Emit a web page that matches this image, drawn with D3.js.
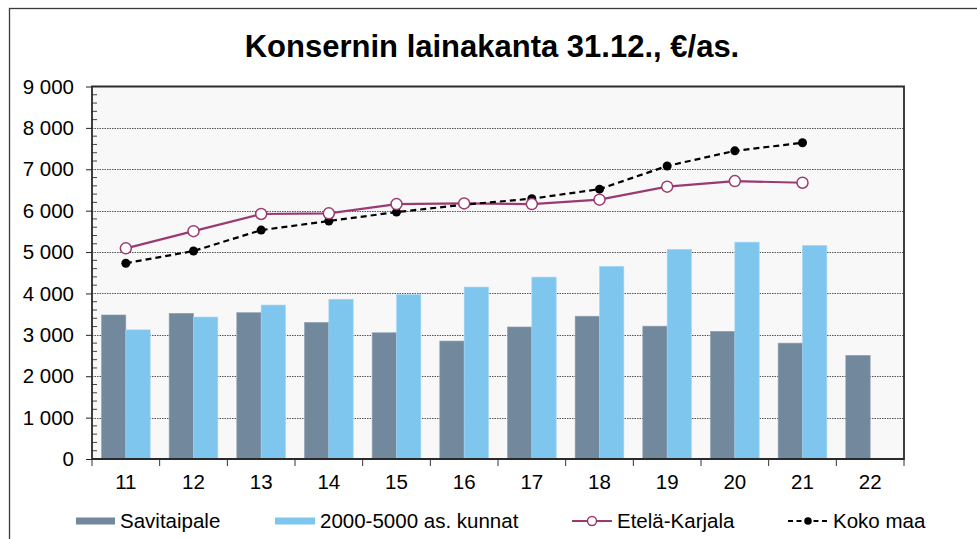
<!DOCTYPE html>
<html lang="fi">
<head>
<meta charset="UTF-8">
<script src="https://d3js.org/d3.v7.min.js"></script>
<title>Konsernin lainakanta</title>
<style>
  body { margin: 0; background: #fff; }
  text { font-family: "Liberation Sans", Arial, sans-serif; fill: #000; }
</style>
</head>
<body>
<script>
// Chart data
const years = ['11', '12', '13', '14', '15', '16', '17', '18', '19', '20', '21', '22'];
const savitaipale = [3480, 3520, 3535, 3300, 3050, 2850, 3190, 3450, 3210, 3085, 2800, 2505];
const kunnat = [3120, 3430, 3720, 3860, 3970, 4155, 4395, 4655, 5065, 5240, 5160, null];
const etelaKarjala = [5090, 5505, 5920, 5935, 6160, 6175, 6160, 6265, 6580, 6715, 6675, null];
const kokoMaa = [4730, 5025, 5530, 5750, 5965, 6145, 6290, 6520, 7080, 7445, 7640, null];
const yTicks = [0, 1000, 2000, 3000, 4000, 5000, 6000, 7000, 8000, 9000];

const W = 977, H = 539;
const plot = {left: 92, top: 86.5, right: 904, bottom: 459};
const FS = 20.5;

const svg = d3.select('body').append('svg')
    .attr('width', W)
    .attr('height', H);

// outer frame
svg.append('rect')
    .attr('x', 9.5).attr('y', 8.5)
    .attr('width', W + 10).attr('height', H + 10)
    .attr('fill', 'none')
    .attr('stroke', '#3a3a3a')
    .attr('stroke-width', 1.3);

// title
svg.append('text')
    .attr('x', 492).attr('y', 57)
    .attr('text-anchor', 'middle')
    .attr('font-size', 31)
    .attr('font-weight', 'bold')
    .text('Konsernin lainakanta 31.12., €/as.');

const x = d3.scaleBand().domain(years).range([plot.left, plot.right]);
const y = d3.scaleLinear().domain([0, 9000]).range([plot.bottom, plot.top]);

const groupW = x.bandwidth() * 0.72;
const x1 = d3.scaleBand().domain(['s', 'k']).range([0, groupW]);

// plot background
svg.append('rect')
    .attr('x', plot.left).attr('y', plot.top)
    .attr('width', plot.right - plot.left)
    .attr('height', plot.bottom - plot.top)
    .attr('fill', '#f8f8f8');

// grid lines
svg.append('g')
    .selectAll('line')
    .data(yTicks.filter(d => d > 0 && d < 9000))
    .enter().append('line')
    .attr('x1', plot.left).attr('x2', plot.right)
    .attr('y1', d => Math.round(y(d)) + 0.5)
    .attr('y2', d => Math.round(y(d)) + 0.5)
    .attr('stroke', '#555')
    .attr('stroke-width', 1)
    .attr('stroke-dasharray', '1.5,1');

// bars
const bars = svg.append('g');
years.forEach((yr, i) => {
    const gx = x(yr) + (x.bandwidth() - groupW) / 2;
    if (savitaipale[i] != null) {
        bars.append('rect')
            .attr('x', gx + x1('s'))
            .attr('y', y(savitaipale[i]))
            .attr('width', x1.bandwidth())
            .attr('height', y(0) - y(savitaipale[i]))
            .attr('fill', '#72889d')
            .attr('stroke', '#8fa2b4')
            .attr('stroke-width', 0.6);
    }
    if (kunnat[i] != null) {
        bars.append('rect')
            .attr('x', gx + x1('k'))
            .attr('y', y(kunnat[i]))
            .attr('width', x1.bandwidth())
            .attr('height', y(0) - y(kunnat[i]))
            .attr('fill', '#7fc6ef')
            .attr('stroke', '#a3d6f4')
            .attr('stroke-width', 0.6);
    }
});

// y axis
const yAxis = svg.append('g')
    .attr('transform', `translate(${plot.left},0)`)
    .call(d3.axisLeft(y).tickValues(yTicks).tickSize(6).tickPadding(12)
        .tickFormat(d => d3.format(',')(d).replace(/,/g, ' ')));
yAxis.select('.domain').remove();
yAxis.selectAll('line').attr('stroke', '#222');
yAxis.selectAll('text').attr('font-size', FS).attr('fill', '#000')
    .attr('font-family', '"Liberation Sans", Arial, sans-serif');

// minor ticks (inside)
const minor = d3.range(0, 9000, 200).filter(d => d % 1000 !== 0);
svg.append('g').selectAll('line')
    .data(minor).enter().append('line')
    .attr('x1', plot.left).attr('x2', plot.left + 5)
    .attr('y1', d => y(d)).attr('y2', d => y(d))
    .attr('stroke', '#444').attr('stroke-width', 1);

// x axis
const xAxis = svg.append('g')
    .attr('transform', `translate(0,${plot.bottom})`)
    .call(d3.axisBottom(x).tickSize(0).tickPadding(15));
xAxis.select('.domain').remove();
xAxis.selectAll('text').attr('font-size', FS).attr('fill', '#000')
    .attr('font-family', '"Liberation Sans", Arial, sans-serif');

// category boundary ticks
svg.append('g').selectAll('line')
    .data(years.concat(['end']))
    .enter().append('line')
    .attr('x1', (d, i) => plot.left + i * x.step())
    .attr('x2', (d, i) => plot.left + i * x.step())
    .attr('y1', plot.bottom).attr('y2', plot.bottom + 7)
    .attr('stroke', '#333').attr('stroke-width', 1);

// plot borders
svg.append('path')
    .attr('d', `M${plot.left},${plot.bottom}V${plot.top}H${plot.right}V${plot.bottom}Z`)
    .attr('fill', 'none')
    .attr('stroke', '#2a2a2a')
    .attr('stroke-width', 1.8);

// lines
const lineGen = d3.line()
    .defined(d => d.v != null)
    .x(d => x(d.yr) + x.bandwidth() / 2)
    .y(d => y(d.v));

const ekData = years.map((yr, i) => ({yr, v: etelaKarjala[i]}));
const kmData = years.map((yr, i) => ({yr, v: kokoMaa[i]}));

svg.append('path')
    .datum(ekData)
    .attr('d', lineGen)
    .attr('fill', 'none')
    .attr('stroke', '#9b3a72')
    .attr('stroke-width', 2.2);

svg.append('path')
    .datum(kmData)
    .attr('d', lineGen)
    .attr('fill', 'none')
    .attr('stroke', '#000')
    .attr('stroke-width', 2.2)
    .attr('stroke-dasharray', '6,4');

svg.append('g').selectAll('circle')
    .data(kmData.filter(d => d.v != null))
    .enter().append('circle')
    .attr('cx', d => x(d.yr) + x.bandwidth() / 2)
    .attr('cy', d => y(d.v))
    .attr('r', 4.5)
    .attr('fill', '#000');

svg.append('g').selectAll('circle')
    .data(ekData.filter(d => d.v != null))
    .enter().append('circle')
    .attr('cx', d => x(d.yr) + x.bandwidth() / 2)
    .attr('cy', d => y(d.v))
    .attr('r', 5.5)
    .attr('fill', '#fff')
    .attr('stroke', '#9b3a72')
    .attr('stroke-width', 1.5);

// legend
const legY = 521;
const leg = svg.append('g');
leg.append('rect').attr('x', 76).attr('y', legY - 3.5).attr('width', 39).attr('height', 7).attr('fill', '#72889d');
leg.append('text').attr('x', 120).attr('y', legY + 7).attr('font-size', FS).text('Savitaipale');
leg.append('rect').attr('x', 275).attr('y', legY - 3.5).attr('width', 40).attr('height', 7).attr('fill', '#7fc6ef');
leg.append('text').attr('x', 320).attr('y', legY + 7).attr('font-size', FS).text('2000-5000 as. kunnat');
leg.append('line').attr('x1', 572).attr('x2', 612).attr('y1', legY).attr('y2', legY)
    .attr('stroke', '#9b3a72').attr('stroke-width', 2.2);
leg.append('circle').attr('cx', 592).attr('cy', legY).attr('r', 4.5)
    .attr('fill', '#fff').attr('stroke', '#9b3a72').attr('stroke-width', 1.5);
leg.append('text').attr('x', 617).attr('y', legY + 7).attr('font-size', FS).text('Etelä-Karjala');
leg.append('line').attr('x1', 788).attr('x2', 828).attr('y1', legY).attr('y2', legY)
    .attr('stroke', '#000').attr('stroke-width', 2.2).attr('stroke-dasharray', '5,3.5');
leg.append('circle').attr('cx', 808).attr('cy', legY).attr('r', 3.8).attr('fill', '#000');
leg.append('text').attr('x', 833).attr('y', legY + 7).attr('font-size', FS).text('Koko maa');
</script>
</body>
</html>
